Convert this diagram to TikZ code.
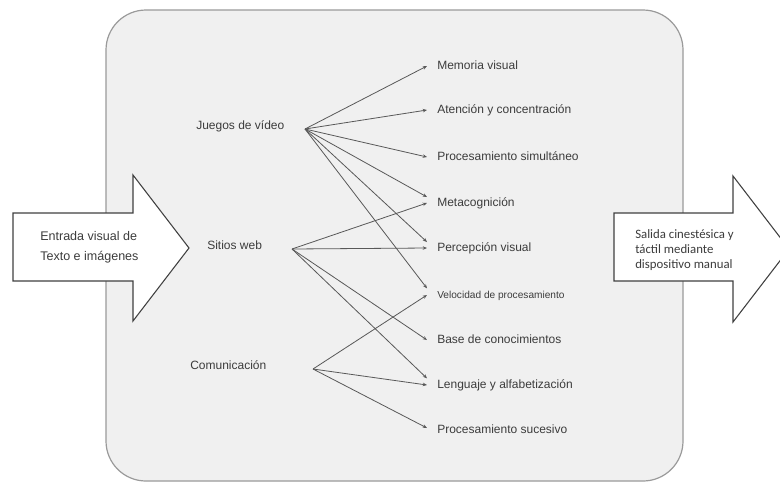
\documentclass[tikz,border=0pt]{standalone}
\usepackage{fontspec}
\setmainfont{Liberation Sans}
\newfontfamily\calibrifont{Carlito}
\usetikzlibrary{arrows.meta}
\definecolor{boxfill}{HTML}{F0F0F0}
\definecolor{boxline}{HTML}{9A9A9A}
\definecolor{inkgray}{HTML}{3C3C3C}
\definecolor{linkgray}{HTML}{585858}

\begin{document}
\begin{tikzpicture}[x=0.75pt, y=-0.75pt,
  src/.style={font=\fontsize{9}{11}\selectfont, text=inkgray, anchor=west, inner sep=0pt},
  tgt/.style={font=\fontsize{9}{11}\selectfont, text=inkgray, anchor=west, inner xsep=7.5pt, inner ysep=0pt, text height=0.7em, text depth=0.2em},
  link/.style={draw=linkgray, line width=0.6pt, -{Stealth[length=3.2pt,width=2.6pt]}},
  bigarrow/.style={draw=black!75, fill=white, line width=0.8pt, line join=miter}]
\useasboundingbox (0,0) rectangle (780,483);
\clip (0,0) rectangle (780,483);
% panel
\draw[boxline, fill=boxfill, line width=0.9pt, rounded corners=30pt] (106,10) rectangle (683,481);
% input and output arrows
\draw[bigarrow] (13,213) -- (133,213) -- (133,175) -- (189,248) -- (133,321) -- (133,281) -- (13,281) -- cycle;
\node[font=\fontsize{9.4}{15}\selectfont, text=inkgray, align=left, anchor=west, inner sep=0pt] (inp) at (40,247) {Entrada visual de\\Texto e imágenes};
\draw[bigarrow] (614,213) -- (733,213) -- (733,176) -- (789,249) -- (733,322) -- (733,281) -- (614,281) -- cycle;
\node[font=\calibrifont\fontsize{9.6}{11}\selectfont, text=inkgray, align=left, anchor=west, inner sep=0pt] (outp) at (635,250) {Salida cinestésica y\\táctil mediante\\dispositivo manual};
% sources
\node[src] (jv) at (196,126) {Juegos de vídeo};
\node[src] (sw) at (207,245) {Sitios web};
\node[src] (com) at (190,365) {Comunicación};
\coordinate (jvh) at (305,129);
\coordinate (swh) at (292,249);
\coordinate (comh) at (313,369);
% targets
\node[tgt] (mem) at (427,66) {Memoria visual};
\node[tgt] (aten) at (427,110) {Atención y concentración};
\node[tgt] (psim) at (427,157) {Procesamiento simultáneo};
\node[tgt] (meta) at (427,203) {Metacognición};
\node[tgt] (perc) at (427,248) {Percepción visual};
\node[tgt, font=\fontsize{7.6}{9}\selectfont] (vel) at (427,295) {Velocidad de procesamiento};
\node[tgt] (base) at (427,340) {Base de conocimientos};
\node[tgt] (leng) at (427,385) {Lenguaje y alfabetización};
\node[tgt] (psuc) at (427,430) {Procesamiento sucesivo};
% links
\foreach \t/\s in {mem/0, aten/0, psim/0, meta/4.5, perc/4.5, vel/5}
  \draw[link] (jvh) -- ([yshift=\s pt]\t.west);
\foreach \t/\s in {meta/0, perc/0, base/0, leng/5}
  \draw[link] (swh) -- ([yshift=\s pt]\t.west);
\foreach \t/\s in {vel/0, leng/0, psuc/1.5}
  \draw[link] (comh) -- ([yshift=\s pt]\t.west);
\end{tikzpicture}
\end{document}
